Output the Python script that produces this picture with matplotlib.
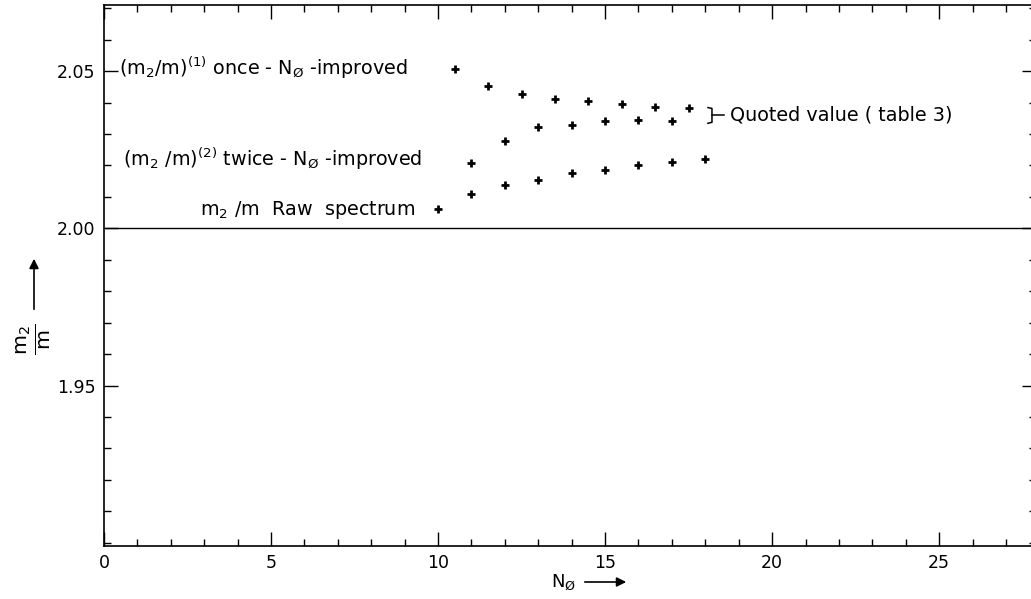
import matplotlib
matplotlib.use("Agg")
import matplotlib.pyplot as plt
from matplotlib.ticker import MultipleLocator

# Data
raw_x = [10, 11, 12, 13, 14, 15, 16, 17, 18]
raw_y = [2.0063, 2.0108, 2.0137, 2.0155, 2.0176, 2.0186, 2.0202, 2.0212, 2.0221]

once_x = [10.5, 11.5, 12.5, 13.5, 14.5, 15.5, 16.5, 17.5]
once_y = [2.0505, 2.0454, 2.0426, 2.0410, 2.0404, 2.0394, 2.0387, 2.0384]

twice_x = [11, 12, 13, 14, 15, 16, 17]
twice_y = [2.0209, 2.0277, 2.0321, 2.0330, 2.0342, 2.0343, 2.0342]

quoted_low, quoted_high = 2.0337, 2.0381
reference_value = 2.00

x_major = [0, 5, 10, 15, 20, 25]
y_major = [1.95, 2.00, 2.05]

W, H = 1031, 599
fig = plt.figure(figsize=(W / 100, H / 100), dpi=100)
plt.rcParams['font.family'] = ['DejaVu Sans']

left_px, right_px, top_px, bottom_px = 104, 1036, 5, 546
ax = fig.add_axes([left_px / W, 1 - bottom_px / H,
                   (right_px - left_px) / W, (bottom_px - top_px) / H])
ax.set_xlim(0, 27.9)
ax.set_ylim(1.899, 2.071)

for s in ax.spines.values():
    s.set_linewidth(1.2)
    s.set_color('black')

ax.xaxis.set_major_locator(MultipleLocator(5))
ax.xaxis.set_minor_locator(MultipleLocator(1))
ax.yaxis.set_major_locator(MultipleLocator(0.05))
ax.yaxis.set_minor_locator(MultipleLocator(0.01))
ax.tick_params(which='both', direction='in', top=True, right=True,
               colors='black', width=1.0)
ax.tick_params(which='major', length=10, labelsize=12.5, pad=6)
ax.tick_params(which='minor', length=5)
ax.set_xticks(x_major)
ax.set_xticklabels([str(v) for v in x_major])
ax.set_yticks(y_major)
ax.set_yticklabels([f"{v:.2f}" for v in y_major])

ax.axhline(reference_value, color='black', lw=1.0)

mk = dict(linestyle='none', marker='+', markersize=6, mew=2.0, color='black')
ax.plot(raw_x, raw_y, **mk)
ax.plot(once_x, once_y, **mk)
ax.plot(twice_x, twice_y, **mk)

fs = 13.8
ax.text(0.45, 2.0511, r'$\mathregular{(m_2/m)^{(1)}}$ once - $\mathregular{N_{\O}}$ -improved',
        fontsize=fs, va='center', ha='left')
ax.text(0.57, 2.0222, r'$\mathregular{(m_2\ /m)^{(2)}}$ twice - $\mathregular{N_{\O}}$ -improved',
        fontsize=fs, va='center', ha='left')
ax.text(2.87, 2.0057, r'$\mathregular{m_2\ /m}$  Raw  spectrum',
        fontsize=fs, va='center', ha='left')

# bracket for quoted value
bx = 18.2
mid = (quoted_low + quoted_high) / 2
ax.plot([bx - 0.12, bx, bx, bx - 0.12], [quoted_high + 0.0003, quoted_high, quoted_low, quoted_low - 0.0003],
        color='black', lw=1.1)
ax.plot([bx, bx + 0.35], [mid, mid], color='black', lw=1.1)
ax.text(18.75, mid, 'Quoted value ( table 3)', fontsize=fs, va='center', ha='left')

# axis labels with arrows
fig.text(34 / W, 1 - 339 / H, r'$\mathregular{\frac{m_2}{m}}$', rotation=90, fontsize=21,
         ha='center', va='center')
fig.add_artist(matplotlib.patches.FancyArrowPatch(
    (34 / W, 1 - 312 / H), (34 / W, 1 - 256 / H), transform=fig.transFigure,
    arrowstyle='-|>', mutation_scale=14, color='black', lw=1.2))
fig.text(563 / W, 1 - 582 / H, r'$\mathregular{N_{\O}}$', fontsize=13,
         ha='center', va='center')
fig.add_artist(matplotlib.patches.FancyArrowPatch(
    (582 / W, 1 - 582 / H), (629 / W, 1 - 582 / H), transform=fig.transFigure,
    arrowstyle='-|>', mutation_scale=14, color='black', lw=1.2))

fig.savefig('out.png', dpi=100)
